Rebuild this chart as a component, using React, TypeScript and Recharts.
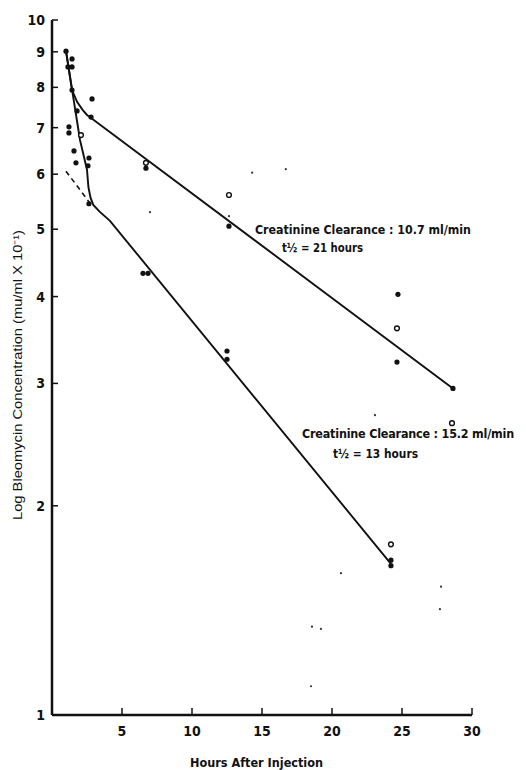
import { ComposedChart, Line, Scatter, XAxis, YAxis } from "recharts";

// hours after injection / concentration (mu/ml x 10^-1)
const filledHours = [1.0, 1.43, 1.14, 1.43, 1.43, 1.79, 2.86, 2.79, 1.21, 1.21, 1.57, 1.71, 2.64, 2.57, 6.71, 2.64, 12.64, 24.71, 24.64, 12.5, 12.5, 6.5, 6.86, 28.64, 24.21, 24.21];
const filledValues = [9.02, 8.79, 8.56, 8.56, 7.93, 7.4, 7.7, 7.25, 7.02, 6.88, 6.48, 6.23, 6.33, 6.17, 6.12, 5.44, 5.05, 4.03, 3.22, 3.34, 3.25, 4.32, 4.32, 2.95, 1.67, 1.64];

const openHours = [2.07, 6.71, 12.64, 24.64, 28.57, 24.21];
const openValues = [6.83, 6.23, 5.6, 3.6, 2.63, 1.76];

const faintHours = [7.0, 12.64, 14.3, 16.7, 23.07, 20.64, 27.79, 27.71, 18.57, 19.21, 18.5];
const faintValues = [5.29, 5.22, 6.03, 6.1, 2.7, 1.6, 1.53, 1.42, 1.34, 1.33, 1.1];

// fitted curves
const slowHours = [1.0, 1.43, 1.8, 2.2, 2.5, 2.79, 28.64];
const slowValues = [9.02, 7.93, 7.62, 7.42, 7.3, 7.23, 2.95];

const fastHours = [1.0, 2.0, 2.5, 2.6, 2.75, 2.95, 3.4, 4.14, 24.21];
const fastValues = [9.02, 6.72, 6.09, 5.75, 5.55, 5.42, 5.3, 5.14, 1.65];

const backHours = [1.0, 2.71];
const backValues = [6.06, 5.45];

const xTicks = [5, 10, 15, 20, 25, 30];
const yTicks = [1, 2, 3, 4, 5, 6, 7, 8, 9, 10];

const toPoints = (hours: number[], values: number[]) =>
  hours.map((t, i) => ({ t, v: values[i] }));

const INK = "#111";
const NARROW = "'Liberation Sans Narrow', 'DejaVu Sans Condensed', sans-serif";

const YTick = (props: any) => {
  const { x, y, payload } = props;
  return (
    <g>
      <line x1={x} y1={y} x2={x + 6} y2={y} stroke={INK} strokeWidth={1.5} />
      <text x={x - 7} y={y + 5} textAnchor="end" fontSize={14} fontWeight="bold" fontFamily={NARROW} fill={INK}>
        {payload.value}
      </text>
    </g>
  );
};

const XTick = (props: any) => {
  const { x, y, payload } = props;
  return (
    <g>
      <line x1={x} y1={y} x2={x} y2={y - 7} stroke={INK} strokeWidth={1.5} />
      <text x={x} y={y + 21} textAnchor="middle" fontSize={14} fontWeight="bold" fontFamily={NARROW} fill={INK}>
        {payload.value}
      </text>
    </g>
  );
};

const Dot = (p: any) => <circle cx={p.cx} cy={p.cy} r={2.6} fill={INK} />;
const Ring = (p: any) => (
  <circle cx={p.cx} cy={p.cy} r={2.4} fill="#fff" stroke={INK} strokeWidth={1.4} />
);
const Speck = (p: any) => <circle cx={p.cx} cy={p.cy} r={1.1} fill="#333" />;

export default function App() {
  return (
    <div style={{ position: "absolute", left: 0, top: 0, width: 526, height: 770, background: "#fff" }}>
      <ComposedChart
        width={526}
        height={770}
        margin={{ top: 20, right: 54, bottom: 25, left: 12 }}
      >
        <XAxis
          dataKey="t"
          type="number"
          domain={[0, 30]}
          ticks={xTicks}
          interval={0}
          height={30}
          tickSize={0}
          tickMargin={0}
          tick={<XTick />}
          axisLine={{ stroke: INK, strokeWidth: 2.5 }}
          allowDataOverflow
        />
        <YAxis
          dataKey="v"
          type="number"
          scale="log"
          domain={[1, 10]}
          ticks={yTicks}
          interval={0}
          width={40}
          tickSize={0}
          tickMargin={0}
          tick={<YTick />}
          axisLine={{ stroke: INK, strokeWidth: 2.5 }}
          allowDataOverflow
        />
        <Line data={toPoints(slowHours, slowValues)} dataKey="v" type="linear" stroke={INK} strokeWidth={1.9} dot={false} isAnimationActive={false} />
        <Line data={toPoints(fastHours, fastValues)} dataKey="v" type="linear" stroke={INK} strokeWidth={1.9} dot={false} isAnimationActive={false} />
        <Line data={toPoints(backHours, backValues)} dataKey="v" type="linear" stroke={INK} strokeWidth={1.6} strokeDasharray="5 4" dot={false} isAnimationActive={false} />
        <Scatter data={toPoints(faintHours, faintValues)} dataKey="v" shape={Speck} isAnimationActive={false} />
        <Scatter data={toPoints(filledHours, filledValues)} dataKey="v" shape={Dot} isAnimationActive={false} />
        <Scatter data={toPoints(openHours, openValues)} dataKey="v" shape={Ring} isAnimationActive={false} />
      </ComposedChart>
      <svg
        width={526}
        height={770}
        style={{ position: "absolute", left: 0, top: 0, pointerEvents: "none" }}
      >
        <g fontFamily={NARROW} fontWeight="bold" fontSize={12.5} fill={INK}>
          <text x={255} y={234} textLength={216} lengthAdjust="spacingAndGlyphs">
            Creatinine Clearance : 10.7 ml/min
          </text>
          <text x={282} y={252} textLength={81} lengthAdjust="spacingAndGlyphs">
            t½ = 21 hours
          </text>
          <text x={302} y={438} textLength={212} lengthAdjust="spacingAndGlyphs" letterSpacing={-0.2}>
            Creatinine Clearance : 15.2 ml/min
          </text>
          <text x={333} y={458} textLength={85} lengthAdjust="spacingAndGlyphs">
            t½ = 13 hours
          </text>
          <text x={190} y={767} textLength={133} lengthAdjust="spacingAndGlyphs">
            Hours After Injection
          </text>
        </g>
        <text
          x={22}
          y={375}
          transform="rotate(-90 22 375)"
          textAnchor="middle"
          fontFamily="'Liberation Sans', Arial, sans-serif"
          fontSize={12}
          fill={INK}
          textLength={290}
          lengthAdjust="spacingAndGlyphs"
        >
          Log Bleomycin Concentration (mu/ml X 10⁻¹)
        </text>
      </svg>
    </div>
  );
}
